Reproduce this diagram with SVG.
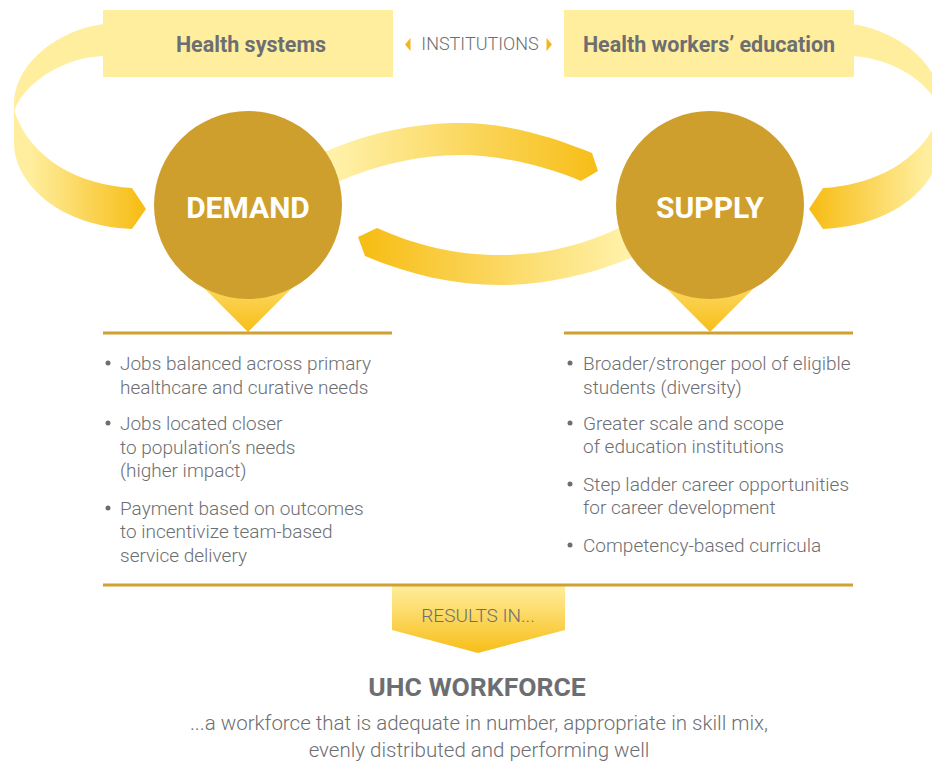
<svg xmlns="http://www.w3.org/2000/svg" width="932" height="763" viewBox="0 0 932 763">
  <defs>
    <!-- ribbon fades: pale yellow into saturated amber toward the arrow head -->
    <linearGradient id="loopFade" gradientUnits="userSpaceOnUse" x1="30" y1="0" x2="140" y2="0">
      <stop offset="0" stop-color="#FFEE9E"/>
      <stop offset="1" stop-color="#F7BE18"/>
    </linearGradient>
    <linearGradient id="arcRight" gradientUnits="userSpaceOnUse" x1="335" y1="0" x2="595" y2="0">
      <stop offset="0" stop-color="#FFF1A8"/>
      <stop offset="1" stop-color="#F7BE18"/>
    </linearGradient>
    <linearGradient id="arcLeft" gradientUnits="userSpaceOnUse" x1="370" y1="0" x2="625" y2="0">
      <stop offset="0" stop-color="#F7BE18"/>
      <stop offset="1" stop-color="#FFF1A8"/>
    </linearGradient>
    <linearGradient id="pointerFade" x1="0" y1="0" x2="0" y2="1">
      <stop offset="0" stop-color="#FFEC9A"/>
      <stop offset="1" stop-color="#F7BE18"/>
    </linearGradient>
    <linearGradient id="bannerFade" x1="0" y1="0" x2="0" y2="1">
      <stop offset="0" stop-color="#FFEE9E"/>
      <stop offset="1" stop-color="#F7BE18"/>
    </linearGradient>
    <!-- left-hand loop from a header box down into a circle -->
    <g id="loop">
      <path fill="#FFEE9E" d="M110,23 L103,24 C60,30 18,60 14,100 L14,112 C22,85 60,58 103,56 L110,56 Z"/>
      <path fill="url(#loopFade)" d="M14,100 L14,145 C16,185 60,226 132,229 L146,209 L132,188 C80,185 30,160 14,110 Z"/>
    </g>
  </defs>
  <style>
    .hdr { font-family: Roboto, "Liberation Sans", sans-serif; font-weight: 700; font-size: 21.5px; fill: #6D6E71; text-anchor: middle; }
    .big { font-family: Roboto, "Liberation Sans", sans-serif; font-weight: 700; font-size: 30px; fill: #FFFFFF; text-anchor: middle; }
    .body { font-family: Roboto, "Liberation Sans", sans-serif; font-weight: 300; font-size: 19px; fill: #6D6E71; }
    .sub { font-family: Roboto, "Liberation Sans", sans-serif; font-weight: 300; font-size: 20.5px; fill: #6D6E71; text-anchor: middle; }
    .cap { font-family: Roboto, "Liberation Sans", sans-serif; font-weight: 300; font-size: 18px; fill: #6D6E71; text-anchor: middle; }
    .title { font-family: Roboto, "Liberation Sans", sans-serif; font-weight: 700; font-size: 26.5px; fill: #6D6E71; text-anchor: middle; }
    .box { fill: #FFEE9E; }
    .disc { fill: #CF9F2E; }
    .rule { stroke: #D1A032; stroke-width: 3; fill: none; }
    .dot { fill: #6D6E71; }
    .tick { fill: #F5B61A; }
  </style>

  <!-- connectors: the two outer loops and the exchange arcs -->
  <g id="connectors">
    <use href="#loop"/>
    <use href="#loop" transform="translate(955,0) scale(-1,1)"/>
    <path fill="url(#arcRight)" d="M318,155 C365,133 415,123 460,123 C510,123 555,138 592,153 L598,171 L581,181 C545,166 500,155 460,155 C420,155 375,165 335,183 Z"/>
    <path fill="url(#arcLeft)" d="M377,228 L358,237 L365,256 C410,275 455,285 500,285 C550,285 600,272 640,254 L625,225 C585,245 545,255 500,255 C455,255 415,245 377,228 Z"/>
  </g>

  <g id="health-systems">
    <rect class="box" x="103" y="10" width="290" height="67"/>
    <text class="hdr" x="251" y="52">Health systems</text>
  </g>

  <g id="health-workers-education">
    <rect class="box" x="564" y="10" width="290" height="67"/>
    <text class="hdr" x="709" y="52">Health workers’ education</text>
  </g>

  <g id="institutions">
    <polygon class="tick" points="410.5,38 405,44.5 410.5,51"/>
    <text class="cap" x="480" y="50">INSTITUTIONS</text>
    <polygon class="tick" points="546.5,38 552,44.5 546.5,51"/>
  </g>

  <g id="demand">
    <polygon fill="url(#pointerFade)" points="166,250 330,250 248,332"/>
    <circle class="disc" cx="248" cy="205" r="94"/>
    <text class="big" x="248" y="218">DEMAND</text>
  </g>

  <g id="supply">
    <polygon fill="url(#pointerFade)" points="628,250 792,250 710,332"/>
    <circle class="disc" cx="710" cy="205" r="94"/>
    <text class="big" x="710" y="218">SUPPLY</text>
  </g>

  <g id="demand-list">
    <line class="rule" x1="103" y1="333" x2="392" y2="333"/>
    <circle class="dot" cx="108" cy="363" r="2.5"/>
    <text class="body" x="120" y="370">Jobs balanced across primary</text>
    <text class="body" x="120" y="394">healthcare and curative needs</text>
    <circle class="dot" cx="108" cy="423" r="2.5"/>
    <text class="body" x="120" y="430">Jobs located closer</text>
    <text class="body" x="120" y="454">to population’s needs</text>
    <text class="body" x="120" y="477">(higher impact)</text>
    <circle class="dot" cx="108" cy="508" r="2.5"/>
    <text class="body" x="120" y="515">Payment based on outcomes</text>
    <text class="body" x="120" y="538">to incentivize team-based</text>
    <text class="body" x="120" y="562">service delivery</text>
  </g>

  <g id="supply-list">
    <line class="rule" x1="564" y1="333" x2="853" y2="333"/>
    <circle class="dot" cx="570" cy="363" r="2.5"/>
    <text class="body" x="583" y="370">Broader/stronger pool of eligible</text>
    <text class="body" x="583" y="394">students (diversity)</text>
    <circle class="dot" cx="570" cy="423" r="2.5"/>
    <text class="body" x="583" y="430">Greater scale and scope</text>
    <text class="body" x="583" y="453">of education institutions</text>
    <circle class="dot" cx="570" cy="484" r="2.5"/>
    <text class="body" x="583" y="491">Step ladder career opportunities</text>
    <text class="body" x="583" y="514">for career development</text>
    <circle class="dot" cx="570" cy="545" r="2.5"/>
    <text class="body" x="583" y="552">Competency-based curricula</text>
  </g>

  <g id="results-in">
    <polygon fill="url(#bannerFade)" points="392,585 565,585 565,630 478,653 392,630"/>
    <line class="rule" x1="103" y1="585" x2="853" y2="585"/>
    <text class="cap" x="478" y="622" style="font-size:19px">RESULTS IN...</text>
  </g>

  <g id="uhc-workforce">
    <text class="title" x="477" y="696">UHC WORKFORCE</text>
    <text class="sub" x="479" y="730">...a workforce that is adequate in number, appropriate in skill mix,</text>
    <text class="sub" x="479" y="757">evenly distributed and performing well</text>
  </g>
</svg>
